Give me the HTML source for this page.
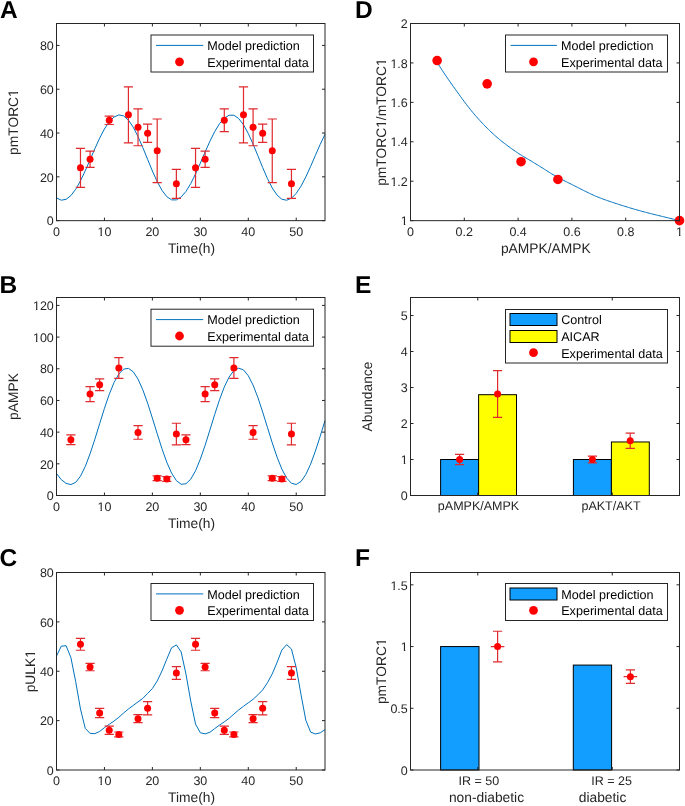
<!DOCTYPE html>
<html><head><meta charset="utf-8"><style>
html,body{margin:0;padding:0;background:#fff;}
svg{display:block;font-family:"Liberation Sans", sans-serif;will-change:transform;text-rendering:geometricPrecision;}
</style></head><body>
<svg width="685" height="806" viewBox="0 0 685 806">
<rect width="685" height="806" fill="#fff"/>
<path d="M56.50 197.92L61.29 200.21L66.09 199.34L70.88 195.62L75.68 189.31L80.47 180.83L85.27 170.76L90.06 159.80L94.86 148.68L99.65 138.17L104.45 128.98L109.24 121.74L114.04 116.94L118.83 114.90L123.62 115.90L128.42 120.08L133.21 127.15L138.01 136.55L142.80 147.56L147.60 159.34L152.39 170.99L157.19 181.60L161.98 190.37L166.78 196.62L171.57 199.87L176.37 199.91L181.16 197.03L185.96 191.45L190.75 183.57L195.54 173.91L200.34 163.14L205.13 151.99L209.93 141.22L214.72 131.56L219.52 123.67L224.31 118.10L229.11 115.21L233.90 115.26L238.70 118.51L243.49 124.76L248.29 133.52L253.08 144.14L257.88 155.78L262.67 167.56L267.46 178.58L272.26 187.98L277.05 195.04L281.85 199.23L286.64 200.22L291.44 198.19L296.23 193.39L301.03 186.14L305.82 176.95L310.62 166.44L315.41 155.33L320.21 144.36L325.00 134.30" stroke="#0072BD" stroke-width="1.0" fill="none" stroke-linejoin="miter"/>
<path d="M80.47 148.36V187.35M75.87 148.36h9.2M75.87 187.35h9.2M90.06 151.21V167.42M85.46 151.21h9.2M85.46 167.42h9.2M109.24 116.16V124.48M104.64 116.16h9.2M104.64 124.48h9.2M128.42 86.81V142.89M123.82 86.81h9.2M123.82 142.89h9.2M138.01 108.93V145.73M133.41 108.93h9.2M133.41 145.73h9.2M147.60 124.05V142.45M143.00 124.05h9.2M143.00 142.45h9.2M157.19 119.01V182.53M152.59 119.01h9.2M152.59 182.53h9.2M176.37 169.39V198.31M171.77 169.39h9.2M171.77 198.31h9.2M195.54 148.36V187.35M190.94 148.36h9.2M190.94 187.35h9.2M205.13 151.21V167.42M200.53 151.21h9.2M200.53 167.42h9.2M224.31 108.93V131.71M219.71 108.93h9.2M219.71 131.71h9.2M243.49 86.81V142.89M238.89 86.81h9.2M238.89 142.89h9.2M253.08 108.93V145.73M248.48 108.93h9.2M248.48 145.73h9.2M262.67 124.05V142.45M258.07 124.05h9.2M258.07 142.45h9.2M272.26 119.01V182.53M267.66 119.01h9.2M267.66 182.53h9.2M291.44 169.39V198.31M286.84 169.39h9.2M286.84 198.31h9.2" stroke="#E02A2E" stroke-width="1.2" fill="none"/>
<circle cx="80.47" cy="167.86" r="3.5" fill="#FF0000"/>
<circle cx="90.06" cy="159.31" r="3.5" fill="#FF0000"/>
<circle cx="109.24" cy="120.32" r="3.5" fill="#FF0000"/>
<circle cx="128.42" cy="114.85" r="3.5" fill="#FF0000"/>
<circle cx="138.01" cy="127.33" r="3.5" fill="#FF0000"/>
<circle cx="147.60" cy="133.25" r="3.5" fill="#FF0000"/>
<circle cx="157.19" cy="150.77" r="3.5" fill="#FF0000"/>
<circle cx="176.37" cy="183.85" r="3.5" fill="#FF0000"/>
<circle cx="195.54" cy="167.86" r="3.5" fill="#FF0000"/>
<circle cx="205.13" cy="159.31" r="3.5" fill="#FF0000"/>
<circle cx="224.31" cy="120.32" r="3.5" fill="#FF0000"/>
<circle cx="243.49" cy="114.85" r="3.5" fill="#FF0000"/>
<circle cx="253.08" cy="127.33" r="3.5" fill="#FF0000"/>
<circle cx="262.67" cy="133.25" r="3.5" fill="#FF0000"/>
<circle cx="272.26" cy="150.77" r="3.5" fill="#FF0000"/>
<circle cx="291.44" cy="183.85" r="3.5" fill="#FF0000"/>
<rect x="56.50" y="23.50" width="268.50" height="197.15" fill="none" stroke="#262626" stroke-width="1"/>
<path d="M56.50 220.65v-3M56.50 23.50v3M104.45 220.65v-3M104.45 23.50v3M152.39 220.65v-3M152.39 23.50v3M200.34 220.65v-3M200.34 23.50v3M248.29 220.65v-3M248.29 23.50v3M296.23 220.65v-3M296.23 23.50v3M56.50 220.65h3M325.00 220.65h-3M56.50 176.84h3M325.00 176.84h-3M56.50 133.03h3M325.00 133.03h-3M56.50 89.22h3M325.00 89.22h-3M56.50 45.41h3M325.00 45.41h-3" stroke="#262626" stroke-width="1" fill="none"/>
<text x="56.50" y="236.05" font-size="12.5" text-anchor="middle" fill="#262626" font-weight="normal" >0</text>
<text x="104.45" y="236.05" font-size="12.5" text-anchor="middle" fill="#262626" font-weight="normal" >10</text>
<text x="152.39" y="236.05" font-size="12.5" text-anchor="middle" fill="#262626" font-weight="normal" >20</text>
<text x="200.34" y="236.05" font-size="12.5" text-anchor="middle" fill="#262626" font-weight="normal" >30</text>
<text x="248.29" y="236.05" font-size="12.5" text-anchor="middle" fill="#262626" font-weight="normal" >40</text>
<text x="296.23" y="236.05" font-size="12.5" text-anchor="middle" fill="#262626" font-weight="normal" >50</text>
<text x="53.80" y="225.35" font-size="12.5" text-anchor="end" fill="#262626" font-weight="normal" >0</text>
<text x="53.80" y="181.54" font-size="12.5" text-anchor="end" fill="#262626" font-weight="normal" >20</text>
<text x="53.80" y="137.73" font-size="12.5" text-anchor="end" fill="#262626" font-weight="normal" >40</text>
<text x="53.80" y="93.92" font-size="12.5" text-anchor="end" fill="#262626" font-weight="normal" >60</text>
<text x="53.80" y="50.11" font-size="12.5" text-anchor="end" fill="#262626" font-weight="normal" >80</text>
<text x="191.55" y="252.85" font-size="13.8" text-anchor="middle" fill="#262626" font-weight="normal" >Time(h)</text>
<text x="0" y="0" font-size="13.8" text-anchor="middle" fill="#262626" transform="translate(17.90 122.08) rotate(-90)">pmTORC1</text>
<rect x="151.00" y="35.00" width="162.50" height="37.00" fill="#fff" stroke="#262626" stroke-width="1"/>
<path d="M156.00 45.40H203.20" stroke="#0072BD" stroke-width="1"/>
<text x="207.30" y="50.10" font-size="12.6" text-anchor="start" fill="#000" font-weight="normal" >Model prediction</text>
<circle cx="179.50" cy="61.80" r="4.4" fill="#FF0000"/>
<text x="207.30" y="66.60" font-size="12.6" text-anchor="start" fill="#000" font-weight="normal" >Experimental data</text>
<text x="0.00" y="17.60" font-size="24.5" text-anchor="start" fill="#000" font-weight="bold" >A</text>
<path d="M56.50 473.48L61.29 479.68L66.09 483.37L70.88 484.57L75.68 482.40L80.47 476.22L85.27 466.46L90.06 453.83L94.86 439.22L99.65 423.70L104.45 408.37L109.24 394.33L114.04 382.58L118.83 373.97L123.62 369.11L128.42 368.36L133.21 371.76L138.01 379.08L142.80 389.79L147.60 403.11L152.39 418.10L157.19 433.69L161.98 448.74L166.78 462.20L171.57 473.08L176.37 480.62L181.16 484.27L185.96 483.77L190.75 479.15L195.54 470.75L200.34 459.17L205.13 445.24L209.93 429.95L214.72 414.41L219.52 399.72L224.31 386.94L229.11 376.99L233.90 370.58L238.70 368.16L243.49 369.91L248.29 375.71L253.08 385.14L257.88 397.52L262.67 411.97L267.46 427.45L272.26 442.85L277.05 457.07L281.85 469.09L286.64 478.05L291.44 483.30L296.23 484.47L301.03 481.47L305.82 474.53L310.62 464.13L315.41 451.03L320.21 436.16L325.00 420.58" stroke="#0072BD" stroke-width="1.0" fill="none" stroke-linejoin="miter"/>
<path d="M70.88 434.83V444.65M66.28 434.83h9.2M66.28 444.65h9.2M90.06 386.68V401.57M85.46 386.68h9.2M85.46 401.57h9.2M99.65 378.92V390.64M95.05 378.92h9.2M95.05 390.64h9.2M118.83 357.53V378.44M114.23 357.53h9.2M114.23 378.44h9.2M138.01 425.65V439.27M133.41 425.65h9.2M133.41 439.27h9.2M157.19 475.86V480.61M152.59 475.86h9.2M152.59 480.61h9.2M166.78 476.65V481.40M162.18 476.65h9.2M162.18 481.40h9.2M176.37 423.27V444.81M171.77 423.27h9.2M171.77 444.81h9.2M185.96 434.83V444.65M181.36 434.83h9.2M181.36 444.65h9.2M205.13 386.68V401.57M200.53 386.68h9.2M200.53 401.57h9.2M214.72 378.92V390.64M210.12 378.92h9.2M210.12 390.64h9.2M233.90 357.53V378.44M229.30 357.53h9.2M229.30 378.44h9.2M253.08 425.65V439.27M248.48 425.65h9.2M248.48 439.27h9.2M272.26 475.86V480.61M267.66 475.86h9.2M267.66 480.61h9.2M281.85 476.65V481.40M277.25 476.65h9.2M277.25 481.40h9.2M291.44 423.27V444.81M286.84 423.27h9.2M286.84 444.81h9.2" stroke="#E02A2E" stroke-width="1.2" fill="none"/>
<circle cx="70.88" cy="439.74" r="3.5" fill="#FF0000"/>
<circle cx="90.06" cy="394.12" r="3.5" fill="#FF0000"/>
<circle cx="99.65" cy="384.78" r="3.5" fill="#FF0000"/>
<circle cx="118.83" cy="367.99" r="3.5" fill="#FF0000"/>
<circle cx="138.01" cy="432.46" r="3.5" fill="#FF0000"/>
<circle cx="157.19" cy="478.23" r="3.5" fill="#FF0000"/>
<circle cx="166.78" cy="479.03" r="3.5" fill="#FF0000"/>
<circle cx="176.37" cy="434.04" r="3.5" fill="#FF0000"/>
<circle cx="185.96" cy="439.74" r="3.5" fill="#FF0000"/>
<circle cx="205.13" cy="394.12" r="3.5" fill="#FF0000"/>
<circle cx="214.72" cy="384.78" r="3.5" fill="#FF0000"/>
<circle cx="233.90" cy="367.99" r="3.5" fill="#FF0000"/>
<circle cx="253.08" cy="432.46" r="3.5" fill="#FF0000"/>
<circle cx="272.26" cy="478.23" r="3.5" fill="#FF0000"/>
<circle cx="281.85" cy="479.03" r="3.5" fill="#FF0000"/>
<circle cx="291.44" cy="434.04" r="3.5" fill="#FF0000"/>
<rect x="56.50" y="297.50" width="268.50" height="198.00" fill="none" stroke="#262626" stroke-width="1"/>
<path d="M56.50 495.50v-3M56.50 297.50v3M104.45 495.50v-3M104.45 297.50v3M152.39 495.50v-3M152.39 297.50v3M200.34 495.50v-3M200.34 297.50v3M248.29 495.50v-3M248.29 297.50v3M296.23 495.50v-3M296.23 297.50v3M56.50 495.50h3M325.00 495.50h-3M56.50 463.82h3M325.00 463.82h-3M56.50 432.14h3M325.00 432.14h-3M56.50 400.46h3M325.00 400.46h-3M56.50 368.78h3M325.00 368.78h-3M56.50 337.10h3M325.00 337.10h-3M56.50 305.42h3M325.00 305.42h-3" stroke="#262626" stroke-width="1" fill="none"/>
<text x="56.50" y="510.70" font-size="12.5" text-anchor="middle" fill="#262626" font-weight="normal" >0</text>
<text x="104.45" y="510.70" font-size="12.5" text-anchor="middle" fill="#262626" font-weight="normal" >10</text>
<text x="152.39" y="510.70" font-size="12.5" text-anchor="middle" fill="#262626" font-weight="normal" >20</text>
<text x="200.34" y="510.70" font-size="12.5" text-anchor="middle" fill="#262626" font-weight="normal" >30</text>
<text x="248.29" y="510.70" font-size="12.5" text-anchor="middle" fill="#262626" font-weight="normal" >40</text>
<text x="296.23" y="510.70" font-size="12.5" text-anchor="middle" fill="#262626" font-weight="normal" >50</text>
<text x="53.80" y="500.20" font-size="12.5" text-anchor="end" fill="#262626" font-weight="normal" >0</text>
<text x="53.80" y="468.52" font-size="12.5" text-anchor="end" fill="#262626" font-weight="normal" >20</text>
<text x="53.80" y="436.84" font-size="12.5" text-anchor="end" fill="#262626" font-weight="normal" >40</text>
<text x="53.80" y="405.16" font-size="12.5" text-anchor="end" fill="#262626" font-weight="normal" >60</text>
<text x="53.80" y="373.48" font-size="12.5" text-anchor="end" fill="#262626" font-weight="normal" >80</text>
<text x="53.80" y="341.80" font-size="12.5" text-anchor="end" fill="#262626" font-weight="normal" >100</text>
<text x="53.80" y="310.12" font-size="12.5" text-anchor="end" fill="#262626" font-weight="normal" >120</text>
<text x="191.55" y="527.50" font-size="13.8" text-anchor="middle" fill="#262626" font-weight="normal" >Time(h)</text>
<text x="0" y="0" font-size="13.8" text-anchor="middle" fill="#262626" transform="translate(18.30 396.50) rotate(-90)">pAMPK</text>
<rect x="151.00" y="309.20" width="162.50" height="37.00" fill="#fff" stroke="#262626" stroke-width="1"/>
<path d="M156.00 319.60H203.20" stroke="#0072BD" stroke-width="1"/>
<text x="207.30" y="324.30" font-size="12.6" text-anchor="start" fill="#000" font-weight="normal" >Model prediction</text>
<circle cx="179.50" cy="336.00" r="4.4" fill="#FF0000"/>
<text x="207.30" y="340.80" font-size="12.6" text-anchor="start" fill="#000" font-weight="normal" >Experimental data</text>
<text x="-0.60" y="292.90" font-size="24.5" text-anchor="start" fill="#000" font-weight="bold" >B</text>
<path d="M56.50 656.08L61.29 646.15L66.09 645.76L70.88 657.50L75.68 681.57L80.47 709.01L85.27 728.43L90.06 733.38L94.86 733.61L99.65 731.47L104.45 727.63L109.24 724.28L114.04 721.02L118.83 717.32L123.62 712.99L128.42 708.99L133.21 705.43L138.01 701.90L142.80 698.41L147.60 693.47L152.39 688.53L157.19 680.97L161.98 671.00L166.78 659.20L171.57 647.80L176.37 644.91L181.16 651.96L185.96 674.04L190.75 701.23L195.54 724.08L200.34 732.78L205.13 733.86L209.93 732.25L214.72 728.60L219.52 725.08L224.31 721.86L229.11 718.32L233.90 714.08L238.70 709.93L243.49 706.30L248.29 702.78L253.08 699.34L257.88 694.82L262.67 689.92L267.46 682.73L272.26 673.87L277.05 662.47L281.85 650.06L286.64 644.61L291.44 649.02L296.23 667.67L301.03 694.64L305.82 720.20L310.62 732.08L315.41 733.96L320.21 732.87L325.00 729.60" stroke="#0072BD" stroke-width="1.0" fill="none" stroke-linejoin="miter"/>
<path d="M80.47 638.42V650.27M75.87 638.42h9.2M75.87 650.27h9.2M90.06 663.35V670.76M85.46 663.35h9.2M85.46 670.76h9.2M99.65 708.28V717.66M95.05 708.28h9.2M95.05 717.66h9.2M109.24 726.06V734.45M104.64 726.06h9.2M104.64 734.45h9.2M118.83 731.98V736.92M114.23 731.98h9.2M114.23 736.92h9.2M138.01 714.70V722.60M133.41 714.70h9.2M133.41 722.60h9.2M147.60 701.62V714.95M143.00 701.62h9.2M143.00 714.95h9.2M176.37 666.56V679.40M171.77 666.56h9.2M171.77 679.40h9.2M195.54 638.42V650.27M190.94 638.42h9.2M190.94 650.27h9.2M205.13 663.35V670.76M200.53 663.35h9.2M200.53 670.76h9.2M214.72 708.28V717.66M210.12 708.28h9.2M210.12 717.66h9.2M224.31 726.06V734.45M219.71 726.06h9.2M219.71 734.45h9.2M233.90 731.98V736.92M229.30 731.98h9.2M229.30 736.92h9.2M253.08 714.70V722.60M248.48 714.70h9.2M248.48 722.60h9.2M262.67 701.62V714.95M258.07 701.62h9.2M258.07 714.95h9.2M291.44 666.56V679.40M286.84 666.56h9.2M286.84 679.40h9.2" stroke="#E02A2E" stroke-width="1.2" fill="none"/>
<circle cx="80.47" cy="644.34" r="3.5" fill="#FF0000"/>
<circle cx="90.06" cy="667.05" r="3.5" fill="#FF0000"/>
<circle cx="99.65" cy="712.97" r="3.5" fill="#FF0000"/>
<circle cx="109.24" cy="730.25" r="3.5" fill="#FF0000"/>
<circle cx="118.83" cy="734.45" r="3.5" fill="#FF0000"/>
<circle cx="138.01" cy="718.65" r="3.5" fill="#FF0000"/>
<circle cx="147.60" cy="708.28" r="3.5" fill="#FF0000"/>
<circle cx="176.37" cy="672.98" r="3.5" fill="#FF0000"/>
<circle cx="195.54" cy="644.34" r="3.5" fill="#FF0000"/>
<circle cx="205.13" cy="667.05" r="3.5" fill="#FF0000"/>
<circle cx="214.72" cy="712.97" r="3.5" fill="#FF0000"/>
<circle cx="224.31" cy="730.25" r="3.5" fill="#FF0000"/>
<circle cx="233.90" cy="734.45" r="3.5" fill="#FF0000"/>
<circle cx="253.08" cy="718.65" r="3.5" fill="#FF0000"/>
<circle cx="262.67" cy="708.28" r="3.5" fill="#FF0000"/>
<circle cx="291.44" cy="672.98" r="3.5" fill="#FF0000"/>
<rect x="56.50" y="572.50" width="268.50" height="197.50" fill="none" stroke="#262626" stroke-width="1"/>
<path d="M56.50 770.00v-3M56.50 572.50v3M104.45 770.00v-3M104.45 572.50v3M152.39 770.00v-3M152.39 572.50v3M200.34 770.00v-3M200.34 572.50v3M248.29 770.00v-3M248.29 572.50v3M296.23 770.00v-3M296.23 572.50v3M56.50 770.00h3M325.00 770.00h-3M56.50 720.62h3M325.00 720.62h-3M56.50 671.25h3M325.00 671.25h-3M56.50 621.88h3M325.00 621.88h-3M56.50 572.50h3M325.00 572.50h-3" stroke="#262626" stroke-width="1" fill="none"/>
<text x="56.50" y="784.90" font-size="12.5" text-anchor="middle" fill="#262626" font-weight="normal" >0</text>
<text x="104.45" y="784.90" font-size="12.5" text-anchor="middle" fill="#262626" font-weight="normal" >10</text>
<text x="152.39" y="784.90" font-size="12.5" text-anchor="middle" fill="#262626" font-weight="normal" >20</text>
<text x="200.34" y="784.90" font-size="12.5" text-anchor="middle" fill="#262626" font-weight="normal" >30</text>
<text x="248.29" y="784.90" font-size="12.5" text-anchor="middle" fill="#262626" font-weight="normal" >40</text>
<text x="296.23" y="784.90" font-size="12.5" text-anchor="middle" fill="#262626" font-weight="normal" >50</text>
<text x="53.80" y="774.70" font-size="12.5" text-anchor="end" fill="#262626" font-weight="normal" >0</text>
<text x="53.80" y="725.33" font-size="12.5" text-anchor="end" fill="#262626" font-weight="normal" >20</text>
<text x="53.80" y="675.95" font-size="12.5" text-anchor="end" fill="#262626" font-weight="normal" >40</text>
<text x="53.80" y="626.58" font-size="12.5" text-anchor="end" fill="#262626" font-weight="normal" >60</text>
<text x="53.80" y="577.20" font-size="12.5" text-anchor="end" fill="#262626" font-weight="normal" >80</text>
<text x="191.55" y="801.80" font-size="13.8" text-anchor="middle" fill="#262626" font-weight="normal" >Time(h)</text>
<text x="0" y="0" font-size="13.8" text-anchor="middle" fill="#262626" transform="translate(34.90 671.25) rotate(-90)">pULK1</text>
<rect x="151.00" y="583.50" width="162.50" height="37.00" fill="#fff" stroke="#262626" stroke-width="1"/>
<path d="M156.00 593.90H203.20" stroke="#0072BD" stroke-width="1"/>
<text x="207.30" y="598.60" font-size="12.6" text-anchor="start" fill="#000" font-weight="normal" >Model prediction</text>
<circle cx="179.50" cy="610.30" r="4.4" fill="#FF0000"/>
<text x="207.30" y="615.10" font-size="12.6" text-anchor="start" fill="#000" font-weight="normal" >Experimental data</text>
<text x="-0.40" y="565.60" font-size="24.5" text-anchor="start" fill="#000" font-weight="bold" >C</text>
<path d="M437.40 62.93L438.62 64.81L439.83 66.68L441.05 68.53L442.27 70.38L443.48 72.21L444.70 74.03L445.92 75.83L447.13 77.63L448.35 79.40L449.57 81.16L450.78 82.91L452.00 84.64L453.22 86.35L454.43 88.05L455.65 89.74L456.87 91.44L458.08 93.13L459.30 94.81L460.52 96.49L461.73 98.16L462.95 99.81L464.16 101.45L465.38 103.07L466.60 104.68L467.81 106.26L469.03 107.82L470.25 109.36L471.46 110.87L472.68 112.35L473.90 113.80L475.11 115.21L476.33 116.60L477.55 117.96L478.76 119.31L479.98 120.65L481.20 121.96L482.41 123.26L483.63 124.54L484.85 125.80L486.06 127.05L487.28 128.27L488.50 129.48L489.71 130.66L490.93 131.83L492.15 132.97L493.36 134.09L494.58 135.19L495.80 136.27L497.01 137.33L498.23 138.36L499.45 139.38L500.66 140.38L501.88 141.36L503.10 142.33L504.31 143.28L505.53 144.21L506.75 145.13L507.96 146.04L509.18 146.93L510.39 147.81L511.61 148.68L512.83 149.54L514.04 150.38L515.26 151.22L516.48 152.04L517.69 152.86L518.91 153.66L520.13 154.46L521.34 155.22L522.56 155.97L523.78 156.70L524.99 157.41L526.21 158.12L527.43 158.83L528.64 159.55L529.86 160.28L531.08 161.01L532.29 161.75L533.51 162.49L534.73 163.23L535.94 163.97L537.16 164.72L538.38 165.46L539.59 166.21L540.81 166.96L542.03 167.72L543.24 168.49L544.46 169.27L545.68 170.05L546.89 170.84L548.11 171.62L549.33 172.38L550.54 173.14L551.76 173.87L552.98 174.57L554.19 175.27L555.41 175.95L556.63 176.62L557.84 177.29L559.06 177.94L560.27 178.59L561.49 179.23L562.71 179.87L563.92 180.50L565.14 181.12L566.36 181.74L567.57 182.36L568.79 182.97L570.01 183.59L571.22 184.20L572.44 184.80L573.66 185.41L574.87 186.02L576.09 186.63L577.31 187.25L578.52 187.86L579.74 188.48L580.96 189.10L582.17 189.71L583.39 190.33L584.61 190.94L585.82 191.54L587.04 192.15L588.26 192.74L589.47 193.32L590.69 193.90L591.91 194.47L593.12 195.02L594.34 195.56L595.56 196.09L596.77 196.60L597.99 197.10L599.21 197.58L600.42 198.06L601.64 198.52L602.86 198.98L604.07 199.42L605.29 199.86L606.51 200.30L607.72 200.72L608.94 201.14L610.15 201.56L611.37 201.97L612.59 202.37L613.80 202.77L615.02 203.17L616.24 203.56L617.45 203.96L618.67 204.35L619.89 204.74L621.10 205.13L622.32 205.52L623.54 205.90L624.75 206.28L625.97 206.66L627.19 207.03L628.40 207.40L629.62 207.77L630.84 208.14L632.05 208.50L633.27 208.86L634.49 209.21L635.70 209.56L636.92 209.91L638.14 210.26L639.35 210.60L640.57 210.94L641.79 211.27L643.00 211.60L644.22 211.93L645.44 212.25L646.65 212.57L647.87 212.89L649.09 213.20L650.30 213.51L651.52 213.81L652.74 214.11L653.95 214.41L655.17 214.71L656.38 215.01L657.60 215.30L658.82 215.60L660.03 215.89L661.25 216.19L662.47 216.49L663.68 216.78L664.90 217.08L666.12 217.38L667.33 217.68L668.55 217.98L669.77 218.28L670.98 218.58L672.20 218.87L673.42 219.17L674.63 219.47L675.85 219.76L677.07 220.06L678.28 220.36L679.50 220.65" stroke="#0072BD" stroke-width="1.0" fill="none" stroke-linejoin="miter"/>
<circle cx="437.13" cy="60.56" r="4.8" fill="#FF0000"/>
<circle cx="487.16" cy="83.83" r="4.8" fill="#FF0000"/>
<circle cx="521.06" cy="161.70" r="4.8" fill="#FF0000"/>
<circle cx="557.91" cy="179.45" r="4.8" fill="#FF0000"/>
<circle cx="679.50" cy="220.65" r="4.8" fill="#FF0000"/>
<rect x="410.50" y="23.50" width="269.00" height="197.15" fill="none" stroke="#262626" stroke-width="1"/>
<path d="M410.50 220.65v-3M410.50 23.50v3M464.30 220.65v-3M464.30 23.50v3M518.10 220.65v-3M518.10 23.50v3M571.90 220.65v-3M571.90 23.50v3M625.70 220.65v-3M625.70 23.50v3M679.50 220.65v-3M679.50 23.50v3M410.50 220.65h3M679.50 220.65h-3M410.50 181.22h3M679.50 181.22h-3M410.50 141.79h3M679.50 141.79h-3M410.50 102.36h3M679.50 102.36h-3M410.50 62.93h3M679.50 62.93h-3M410.50 23.50h3M679.50 23.50h-3" stroke="#262626" stroke-width="1" fill="none"/>
<text x="410.50" y="236.05" font-size="12.5" text-anchor="middle" fill="#262626" font-weight="normal" >0</text>
<text x="464.30" y="236.05" font-size="12.5" text-anchor="middle" fill="#262626" font-weight="normal" >0.2</text>
<text x="518.10" y="236.05" font-size="12.5" text-anchor="middle" fill="#262626" font-weight="normal" >0.4</text>
<text x="571.90" y="236.05" font-size="12.5" text-anchor="middle" fill="#262626" font-weight="normal" >0.6</text>
<text x="625.70" y="236.05" font-size="12.5" text-anchor="middle" fill="#262626" font-weight="normal" >0.8</text>
<text x="679.50" y="236.05" font-size="12.5" text-anchor="middle" fill="#262626" font-weight="normal" >1</text>
<text x="407.80" y="225.35" font-size="12.5" text-anchor="end" fill="#262626" font-weight="normal" >1</text>
<text x="407.80" y="185.92" font-size="12.5" text-anchor="end" fill="#262626" font-weight="normal" >1.2</text>
<text x="407.80" y="146.49" font-size="12.5" text-anchor="end" fill="#262626" font-weight="normal" >1.4</text>
<text x="407.80" y="107.06" font-size="12.5" text-anchor="end" fill="#262626" font-weight="normal" >1.6</text>
<text x="407.80" y="67.63" font-size="12.5" text-anchor="end" fill="#262626" font-weight="normal" >1.8</text>
<text x="407.80" y="28.20" font-size="12.5" text-anchor="end" fill="#262626" font-weight="normal" >2</text>
<text x="545.80" y="252.85" font-size="13.8" text-anchor="middle" fill="#262626" font-weight="normal" >pAMPK/AMPK</text>
<text x="0" y="0" font-size="13.8" text-anchor="middle" fill="#262626" transform="translate(386.30 122.08) rotate(-90)">pmTORC1/mTORC1</text>
<rect x="505.50" y="35.00" width="162.00" height="37.00" fill="#fff" stroke="#262626" stroke-width="1"/>
<path d="M510.50 45.40H556.90" stroke="#0072BD" stroke-width="1"/>
<text x="561.00" y="50.10" font-size="12.6" text-anchor="start" fill="#000" font-weight="normal" >Model prediction</text>
<circle cx="533.52" cy="61.80" r="4.4" fill="#FF0000"/>
<text x="561.00" y="66.60" font-size="12.6" text-anchor="start" fill="#000" font-weight="normal" >Experimental data</text>
<text x="354.90" y="17.60" font-size="24.5" text-anchor="start" fill="#000" font-weight="bold" >D</text>
<rect x="440.60" y="459.50" width="38.00" height="36.00" fill="#129EFF" stroke="#000" stroke-width="1"/>
<rect x="478.60" y="394.70" width="37.90" height="100.80" fill="#FFFF00" stroke="#000" stroke-width="1"/>
<rect x="573.40" y="459.50" width="38.00" height="36.00" fill="#129EFF" stroke="#000" stroke-width="1"/>
<rect x="611.40" y="441.97" width="37.90" height="53.53" fill="#FFFF00" stroke="#000" stroke-width="1"/>
<path d="M459.60 454.46V464.54M455.00 454.46h9.2M455.00 464.54h9.2M497.60 370.58V417.38M493.00 370.58h9.2M493.00 417.38h9.2M592.40 456.08V462.92M587.80 456.08h9.2M587.80 462.92h9.2M630.20 433.22V448.34M625.60 433.22h9.2M625.60 448.34h9.2" stroke="#E02A2E" stroke-width="1.2" fill="none"/>
<circle cx="459.60" cy="459.50" r="3.5" fill="#FF0000"/>
<circle cx="497.60" cy="393.98" r="3.5" fill="#FF0000"/>
<circle cx="592.40" cy="459.50" r="3.5" fill="#FF0000"/>
<circle cx="630.20" cy="440.78" r="3.5" fill="#FF0000"/>
<rect x="410.50" y="297.50" width="269.00" height="198.00" fill="none" stroke="#262626" stroke-width="1"/>
<path d="M477.75 495.50v-3M477.75 297.50v3M612.25 495.50v-3M612.25 297.50v3M410.50 495.50h3M679.50 495.50h-3M410.50 459.50h3M679.50 459.50h-3M410.50 423.50h3M679.50 423.50h-3M410.50 387.50h3M679.50 387.50h-3M410.50 351.50h3M679.50 351.50h-3M410.50 315.50h3M679.50 315.50h-3" stroke="#262626" stroke-width="1" fill="none"/>
<text x="478.50" y="510.00" font-size="12.5" text-anchor="middle" fill="#262626" font-weight="normal" >pAMPK/AMPK</text>
<text x="611.00" y="510.00" font-size="12.5" text-anchor="middle" fill="#262626" font-weight="normal" >pAKT/AKT</text>
<text x="407.80" y="500.20" font-size="12.5" text-anchor="end" fill="#262626" font-weight="normal" >0</text>
<text x="407.80" y="464.20" font-size="12.5" text-anchor="end" fill="#262626" font-weight="normal" >1</text>
<text x="407.80" y="428.20" font-size="12.5" text-anchor="end" fill="#262626" font-weight="normal" >2</text>
<text x="407.80" y="392.20" font-size="12.5" text-anchor="end" fill="#262626" font-weight="normal" >3</text>
<text x="407.80" y="356.20" font-size="12.5" text-anchor="end" fill="#262626" font-weight="normal" >4</text>
<text x="407.80" y="320.20" font-size="12.5" text-anchor="end" fill="#262626" font-weight="normal" >5</text>
<text x="0" y="0" font-size="13.8" text-anchor="middle" fill="#262626" transform="translate(371.70 396.50) rotate(-90)">Abundance</text>
<rect x="505.50" y="309.50" width="162.00" height="53.50" fill="#fff" stroke="#262626" stroke-width="1"/>
<rect x="510" y="313.5" width="47" height="12" fill="#129EFF" stroke="#000" stroke-width="1"/>
<rect x="510" y="330.5" width="47" height="12" fill="#FFFF00" stroke="#000" stroke-width="1"/>
<text x="561.20" y="324.40" font-size="12.6" text-anchor="start" fill="#000" font-weight="normal" >Control</text>
<text x="561.20" y="341.30" font-size="12.6" text-anchor="start" fill="#000" font-weight="normal" >AICAR</text>
<circle cx="533.5" cy="352.7" r="4.4" fill="#FF0000"/>
<text x="561.20" y="357.90" font-size="12.6" text-anchor="start" fill="#000" font-weight="normal" >Experimental data</text>
<text x="354.90" y="292.90" font-size="24.5" text-anchor="start" fill="#000" font-weight="bold" >E</text>
<rect x="440.60" y="646.56" width="38.40" height="123.44" fill="#129EFF" stroke="#000" stroke-width="1"/>
<rect x="573.30" y="665.08" width="38.30" height="104.92" fill="#129EFF" stroke="#000" stroke-width="1"/>
<path d="M497.60 631.26V661.87M493.00 631.26h9.2M493.00 661.87h9.2M490.80 646.56h13.6M630.40 669.89V683.47M625.80 669.89h9.2M625.80 683.47h9.2M623.60 676.68h13.6" stroke="#E02A2E" stroke-width="1.2" fill="none"/>
<circle cx="497.60" cy="646.56" r="3.5" fill="#FF0000"/>
<circle cx="630.40" cy="676.68" r="3.5" fill="#FF0000"/>
<rect x="410.50" y="572.50" width="269.00" height="197.50" fill="none" stroke="#262626" stroke-width="1"/>
<path d="M477.75 770.00v-3M477.75 572.50v3M612.25 770.00v-3M612.25 572.50v3M410.50 770.00h3M679.50 770.00h-3M410.50 708.28h3M679.50 708.28h-3M410.50 646.56h3M679.50 646.56h-3M410.50 584.84h3M679.50 584.84h-3" stroke="#262626" stroke-width="1" fill="none"/>
<text x="407.80" y="774.70" font-size="12.5" text-anchor="end" fill="#262626" font-weight="normal" >0</text>
<text x="407.80" y="712.98" font-size="12.5" text-anchor="end" fill="#262626" font-weight="normal" >0.5</text>
<text x="407.80" y="651.26" font-size="12.5" text-anchor="end" fill="#262626" font-weight="normal" >1</text>
<text x="407.80" y="589.54" font-size="12.5" text-anchor="end" fill="#262626" font-weight="normal" >1.5</text>
<text x="478.90" y="785.20" font-size="12.5" text-anchor="middle" fill="#262626" font-weight="normal" >IR = 50</text>
<text x="486.50" y="801.60" font-size="13.8" text-anchor="middle" fill="#262626" font-weight="normal" >non-diabetic</text>
<text x="611.60" y="785.20" font-size="12.5" text-anchor="middle" fill="#262626" font-weight="normal" >IR = 25</text>
<text x="602.50" y="801.60" font-size="13.8" text-anchor="middle" fill="#262626" font-weight="normal" >diabetic</text>
<text x="0" y="0" font-size="13.8" text-anchor="middle" fill="#262626" transform="translate(386.30 671.25) rotate(-90)">pmTORC1</text>
<rect x="505.50" y="583.50" width="162.00" height="37.00" fill="#fff" stroke="#262626" stroke-width="1"/>
<rect x="510" y="588" width="47" height="12" fill="#129EFF" stroke="#000" stroke-width="1"/>
<text x="561.20" y="598.60" font-size="12.6" text-anchor="start" fill="#000" font-weight="normal" >Model prediction</text>
<circle cx="533.5" cy="610.3" r="4.4" fill="#FF0000"/>
<text x="561.20" y="615.10" font-size="12.6" text-anchor="start" fill="#000" font-weight="normal" >Experimental data</text>
<text x="354.90" y="565.90" font-size="24.5" text-anchor="start" fill="#000" font-weight="bold" >F</text>
<path d="M97.75 234.67H100.49V236.65H97.75ZM101.89 234.67H104.54V236.65H101.89Z" fill="#fff"/>
<path d="M25.51 -1.48H28.48V0.60H25.51ZM30.00 -1.48H32.86V0.60H30.00Z" fill="#fff" transform="translate(17.90 122.08) rotate(-90)"/>
<path d="M97.75 509.32H100.49V511.30H97.75ZM101.89 509.32H104.54V511.30H101.89Z" fill="#fff"/>
<path d="M33.19 340.42H35.93V342.40H33.19ZM37.34 340.42H39.98V342.40H37.34Z" fill="#fff"/>
<path d="M33.19 308.74H35.93V310.72H33.19ZM37.34 308.74H39.98V310.72H37.34Z" fill="#fff"/>
<path d="M97.75 783.52H100.49V785.50H97.75ZM101.89 783.52H104.54V785.50H101.89Z" fill="#fff"/>
<path d="M13.76 -1.48H16.73V0.60H13.76ZM18.25 -1.48H21.11V0.60H18.25Z" fill="#fff" transform="translate(34.90 671.25) rotate(-90)"/>
<path d="M676.28 234.67H679.02V236.65H676.28ZM680.42 234.67H683.06V236.65H680.42Z" fill="#fff"/>
<path d="M401.10 223.97H403.84V225.95H401.10ZM405.24 223.97H407.89V225.95H405.24Z" fill="#fff"/>
<path d="M390.66 184.54H393.40V186.52H390.66ZM394.81 184.54H397.45V186.52H394.81Z" fill="#fff"/>
<path d="M390.66 145.11H393.40V147.09H390.66ZM394.81 145.11H397.45V147.09H394.81Z" fill="#fff"/>
<path d="M390.66 105.68H393.40V107.66H390.66ZM394.81 105.68H397.45V107.66H394.81Z" fill="#fff"/>
<path d="M390.66 66.25H393.40V68.23H390.66ZM394.81 66.25H397.45V68.23H394.81Z" fill="#fff"/>
<path d="M-5.41 -1.48H-2.44V0.60H-5.41ZM-0.92 -1.48H1.94V0.60H-0.92Z" fill="#fff" transform="translate(386.30 122.08) rotate(-90)"/>
<path d="M56.42 -1.48H59.39V0.60H56.42ZM60.91 -1.48H63.77V0.60H60.91Z" fill="#fff" transform="translate(386.30 122.08) rotate(-90)"/>
<path d="M401.10 462.82H403.84V464.80H401.10ZM405.24 462.82H407.89V464.80H405.24Z" fill="#fff"/>
<path d="M401.10 649.88H403.84V651.86H401.10ZM405.24 649.88H407.89V651.86H405.24Z" fill="#fff"/>
<path d="M390.66 588.16H393.40V590.14H390.66ZM394.81 588.16H397.45V590.14H394.81Z" fill="#fff"/>
<path d="M25.51 -1.48H28.48V0.60H25.51ZM30.00 -1.48H32.86V0.60H30.00Z" fill="#fff" transform="translate(386.30 671.25) rotate(-90)"/>
</svg>
</body></html>
